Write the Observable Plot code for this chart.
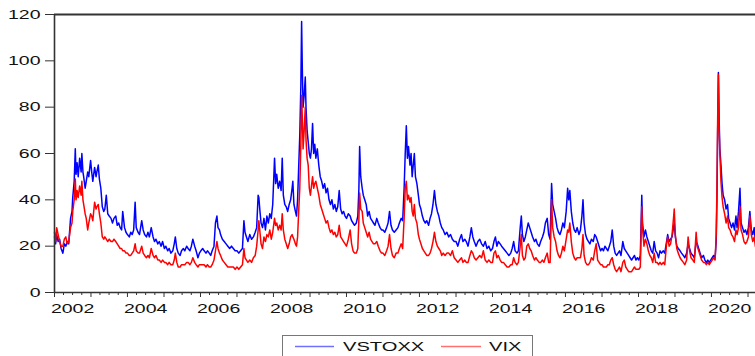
<!DOCTYPE html>
<html>
<head>
<meta charset="utf-8">
<script src="https://cdn.jsdelivr.net/npm/d3@7"></script>
<script src="https://cdn.jsdelivr.net/npm/@observablehq/plot@0.6"></script>
<style>
  html, body { margin: 0; padding: 0; background: #fff; overflow: hidden; }
  #wrap { position: relative; width: 755px; height: 356px; }
  #legend { position: absolute; left: 282px; top: 335px; width: 249px; height: 30px; border: 1px solid #777; background: #fff; }
  text { font-family: "Liberation Sans", Arial, sans-serif; }
</style>
</head>
<body>
<div id="wrap">
  <div id="chart"></div>
  <div id="legend"></div>
</div>
<script>
// ---- data (decimal year) ----
const t = [
  2002.00,2002.03,2002.06,2002.10,2002.14,2002.18,2002.23,2002.27,2002.31,2002.35,2002.39,2002.44,2002.48,2002.50,2002.54,2002.57,2002.59,2002.62,2002.65,2002.69,2002.73,2002.75,2002.78,2002.80,2002.84,2002.87,2002.91,2002.94,2002.99,
  2003.02,2003.05,2003.10,2003.14,2003.16,2003.20,2003.23,2003.27,2003.31,2003.35,2003.38,2003.42,2003.46,2003.50,2003.55,2003.59,2003.63,2003.68,2003.72,2003.76,2003.80,2003.84,2003.87,2003.92,2003.96,
  2004.00,2004.05,2004.09,2004.13,2004.17,2004.21,2004.24,2004.29,2004.33,2004.39,2004.43,2004.47,2004.52,2004.56,2004.60,2004.65,2004.70,2004.74,2004.78,2004.83,2004.87,2004.92,2004.96,
  2005.01,2005.05,2005.10,2005.14,2005.19,2005.24,2005.28,2005.31,2005.35,2005.39,2005.44,2005.48,2005.53,2005.57,2005.62,2005.66,2005.71,2005.75,2005.79,2005.84,2005.88,2005.93,2005.97,
  2006.01,2006.06,2006.10,2006.15,2006.19,2006.24,2006.28,2006.32,2006.37,2006.41,2006.45,2006.48,2006.52,2006.55,2006.60,2006.65,2006.70,2006.75,2006.80,2006.85,2006.90,2006.95,
  2007.00,2007.05,2007.10,2007.15,2007.19,2007.22,2007.26,2007.30,2007.35,2007.40,2007.45,2007.50,2007.54,2007.58,2007.60,2007.63,2007.66,2007.70,2007.74,2007.78,2007.82,2007.86,2007.90,2007.94,2007.98,
  2008.03,2008.06,2008.09,2008.13,2008.17,2008.21,2008.24,2008.27,2008.31,2008.35,2008.39,2008.43,2008.47,2008.51,2008.53,2008.56,2008.60,2008.63,2008.66,2008.69,2008.72,2008.75,2008.77,2008.79,2008.81,2008.84,2008.87,2008.89,2008.92,2008.95,2008.98,
  2009.01,2009.04,2009.07,2009.10,2009.13,2009.16,2009.20,2009.24,2009.28,2009.32,2009.36,2009.40,2009.44,2009.48,2009.52,2009.56,2009.60,2009.64,2009.68,2009.72,2009.76,2009.80,2009.84,2009.88,2009.92,2009.96,
  2010.00,2010.05,2010.10,2010.14,2010.18,2010.22,2010.27,2010.31,2010.34,2010.36,2010.39,2010.43,2010.46,2010.50,2010.54,2010.58,2010.62,2010.66,2010.70,2010.74,2010.78,2010.83,2010.87,2010.92,2010.96,
  2011.00,2011.05,2011.10,2011.14,2011.18,2011.22,2011.26,2011.31,2011.36,2011.41,2011.45,2011.50,2011.54,2011.58,2011.61,2011.64,2011.67,2011.70,2011.74,2011.77,2011.80,2011.83,2011.86,2011.89,2011.93,2011.97,
  2012.00,2012.04,2012.08,2012.12,2012.16,2012.20,2012.25,2012.29,2012.33,2012.37,2012.41,2012.45,2012.49,2012.53,2012.57,2012.61,2012.65,2012.70,2012.75,2012.80,2012.85,2012.90,2012.95,
  2013.00,2013.05,2013.10,2013.15,2013.19,2013.24,2013.28,2013.33,2013.38,2013.42,2013.46,2013.50,2013.55,2013.60,2013.65,2013.70,2013.75,2013.80,2013.85,2013.90,2013.95,
  2014.00,2014.04,2014.08,2014.12,2014.16,2014.21,2014.25,2014.30,2014.35,2014.40,2014.45,2014.50,2014.54,2014.58,2014.62,2014.67,2014.71,2014.76,2014.79,2014.82,2014.86,2014.90,2014.94,2014.98,
  2015.02,2015.06,2015.10,2015.15,2015.19,2015.23,2015.28,2015.32,2015.37,2015.41,2015.45,2015.50,2015.54,2015.58,2015.62,2015.65,2015.69,2015.73,2015.77,2015.81,2015.85,2015.89,2015.93,2015.97,
  2016.02,2016.06,2016.09,2016.12,2016.16,2016.20,2016.24,2016.28,2016.32,2016.37,2016.41,2016.45,2016.48,2016.51,2016.55,2016.59,2016.63,2016.67,2016.71,2016.76,2016.80,2016.84,2016.88,2016.92,2016.96,
  2017.00,2017.04,2017.08,2017.12,2017.16,2017.20,2017.24,2017.28,2017.32,2017.36,2017.40,2017.44,2017.48,2017.52,2017.57,2017.61,2017.65,2017.69,2017.73,2017.77,2017.81,2017.85,2017.89,2017.93,2017.97,
  2018.01,2018.05,2018.09,2018.11,2018.15,2018.19,2018.23,2018.27,2018.31,2018.35,2018.39,2018.43,2018.47,2018.51,2018.55,2018.59,2018.63,2018.68,2018.72,2018.77,2018.80,2018.84,2018.88,2018.92,2018.96,2018.98,
  2019.01,2019.05,2019.09,2019.14,2019.18,2019.23,2019.27,2019.32,2019.36,2019.40,2019.44,2019.49,2019.53,2019.58,2019.61,2019.65,2019.69,2019.73,2019.78,2019.82,2019.86,2019.90,2019.94,2019.98,
  2020.02,2020.06,2020.10,2020.13,2020.15,2020.17,2020.19,2020.21,2020.23,2020.26,2020.29,2020.32,2020.36,2020.40,2020.44,2020.47,2020.51,2020.55,2020.59,2020.63,2020.67,2020.70,2020.74,2020.78,2020.81,2020.85,2020.89,2020.93,2020.97,
  2021.01,2021.05,2021.09,2021.13,2021.17,2021.20
];
const vstoxx = [
  24,21,25,22,23,19,17,21,20,22,21,32,35,41,48,62,51,56,50,58,52,60,52,50,45,48,52,50,57,
  52,48,54,50,52,55,49,45,37,35,36,42,34,33,32,30,32,33,29,30,28,27,35,28,26,
  25,24,26,25,27,39,28,26,25,31,27,25,24,26,24,28,24,22,23,21,22,20,22,
  19,20,18,19,17,18,21,24,19,17,16,18,19,18,20,19,18,20,23,20,18,15,17,
  18,19,18,17,18,17,16,18,20,30,33,28,27,25,23,22,21,20,19,20,19,18,
  18,17,18,19,31,26,24,22,25,23,24,26,28,42,41,35,30,28,32,27,33,30,34,32,38,
  58,47,51,45,48,44,58,42,38,37,35,38,40,45,48,38,35,33,40,54,68,90,117,96,80,85,93,80,70,65,60,
  58,62,73,60,64,58,62,55,50,48,45,47,43,45,40,38,40,36,38,35,37,44,36,34,35,33,
  32,34,33,31,30,29,30,33,45,63,50,45,42,40,38,33,35,32,31,30,29,32,30,28,27,
  27,26,28,30,35,29,27,26,27,28,30,32,31,45,60,72,58,63,55,60,50,55,60,50,47,42,
  38,36,33,31,30,31,29,32,34,38,44,38,35,33,30,28,27,25,26,24,25,23,22,
  22,20,23,25,22,23,22,20,24,28,24,22,20,22,23,21,20,22,19,20,18,
  19,22,24,20,22,21,20,19,18,17,16,17,19,22,18,17,18,28,33,25,22,24,27,30,
  28,26,24,22,23,21,20,22,24,26,30,32,25,23,47,38,35,32,28,26,25,27,30,28,
  35,45,40,44,35,30,27,26,28,25,27,33,40,30,25,23,22,21,23,22,25,24,22,20,18,
  19,18,20,19,18,20,22,27,20,17,16,17,18,16,22,19,18,17,16,15,14,15,16,14,15,
  14,16,42,30,24,27,24,22,20,18,17,22,18,17,15,18,17,18,17,22,25,22,23,24,28,30,
  24,20,19,18,17,16,15,17,21,19,17,16,15,22,21,19,17,15,16,14,13,14,13,14,
  15,16,15,22,40,70,95,75,62,55,47,42,40,36,38,32,30,28,30,27,33,28,35,45,30,28,26,27,25,
  28,35,27,25,28,22
];
const vix = [
  26,22,28,25,22,20,20,23,24,21,22,28,30,35,40,49,40,44,41,46,42,48,40,38,34,32,27,30,34,
  33,31,39,36,37,38,34,30,24,23,24,23,22,23,22,22,23,22,21,20,19,19,18,18,17,
  17,16,16,17,18,21,18,17,17,20,17,16,15,16,15,19,16,15,16,14,14,13,14,
  13,13,12,13,12,12,14,17,13,11,11,12,12,12,13,13,12,13,15,13,12,11,12,
  12,12,12,11,12,11,11,12,14,18,22,19,17,16,14,13,12,11,11,11,11,10,
  11,10,11,12,19,15,14,13,14,13,15,16,20,27,31,26,21,19,24,22,25,24,27,23,26,
  32,29,30,27,29,27,34,27,23,21,19,21,24,25,24,23,21,20,24,35,45,65,85,75,62,70,80,66,58,55,45,
  42,46,50,45,47,48,45,42,38,36,34,32,30,31,28,26,27,25,26,24,25,29,24,23,22,21,
  20,23,27,21,18,17,17,19,32,43,36,35,30,28,26,24,26,23,22,21,21,22,20,18,17,
  17,16,18,20,25,19,16,15,17,17,19,21,19,32,45,48,40,42,39,41,35,33,38,32,30,25,
  23,21,19,18,17,16,16,17,19,22,26,22,20,19,18,16,17,16,17,17,16,18,15,
  14,13,14,15,13,14,13,13,16,18,17,15,14,15,16,15,18,14,13,14,13,
  13,17,18,15,16,14,13,13,12,11,11,12,12,15,13,12,13,20,25,16,14,15,20,21,
  19,18,16,14,15,14,13,13,14,13,15,17,13,13,40,28,24,22,18,16,15,17,20,18,
  23,27,26,30,22,17,15,14,15,15,15,19,25,16,13,12,12,13,15,14,18,21,14,13,12,
  12,11,11,11,12,12,14,15,12,10,9,10,11,9,13,14,11,10,9,9,9,10,11,10,10,
  10,11,37,28,20,23,21,18,16,15,13,17,13,13,12,13,12,13,12,21,24,20,21,25,32,36,
  25,19,17,15,14,13,12,14,24,18,15,14,13,26,20,18,16,14,13,13,12,13,12,13,
  14,15,14,25,45,75,94,70,60,48,41,37,34,30,33,28,27,25,24,22,27,25,28,37,27,25,22,21,22,
  24,33,25,22,24,20
];
const seriesNames = ["VSTOXX", "VIX"];
const seriesColors = ["#0000ff", "#ff0000"];
const yTicks = [0, 20, 40, 60, 80, 100, 120];
const labelYears = [2002, 2004, 2006, 2008, 2010, 2012, 2014, 2016, 2018, 2020];
const firstYear = 2002, lastYear = 2021;
const xEndDecimal = 2021.205;

// ---- build ----
const toDate = v => {
  const y = Math.floor(v);
  const s = Date.UTC(y, 0, 1), e = Date.UTC(y + 1, 0, 1);
  return new Date(s + (v - y) * (e - s));
};
const n = Math.min(t.length, vstoxx.length, vix.length);
const rows = [];
for (let i = 0; i < n; i++) rows.push({date: toDate(t[i]), vstoxx: vstoxx[i], vix: vix[i]});

const xStart = new Date(Date.UTC(firstYear, 0, 1));
const xEnd = toDate(xEndDecimal);
const yearStarts = d3.range(firstYear, lastYear + 1).map(y => new Date(Date.UTC(y, 0, 1)));
const quarterTicks = d3.utcMonth.every(3).range(xStart, xEnd).filter(d => d.getUTCMonth() !== 0);
const labelDates = labelYears.map(y => new Date(Date.UTC(y, 6, 1)));

const font = "'Liberation Sans', Arial, sans-serif";
const chart = Plot.plot({
  width: 755,
  height: 330,
  marginTop: 14,
  marginBottom: 38,
  marginLeft: 54,
  marginRight: 0,
  style: {fontFamily: font, fontSize: "13px", color: "#111", background: "#fff", overflow: "visible"},
  x: {type: "utc", domain: [xStart, xEnd], label: null},
  y: {domain: [0, 120], label: null},
  marks: [
    Plot.lineY(rows, {x: "date", y: "vstoxx", stroke: seriesColors[0], strokeWidth: 1.5}),
    Plot.lineY(rows, {x: "date", y: "vix", stroke: seriesColors[1], strokeWidth: 1.5}),
    Plot.ruleY([0], {stroke: "#333", strokeWidth: 1.6}),
    Plot.ruleY([120], {stroke: "#333", strokeWidth: 2}),
    Plot.ruleX([xStart], {stroke: "#333", strokeWidth: 1.6}),
    Plot.axisY({ticks: yTicks, tickSize: 9, tickPadding: 5, stroke: "#333", fontSize: 13, label: null}),
    Plot.axisX({ticks: yearStarts, tickSize: 5, tickFormat: () => "", stroke: "#333", label: null}),
    Plot.axisX({ticks: quarterTicks, tickSize: 3, tickFormat: () => "", stroke: "#333", label: null}),
    Plot.axisX({ticks: labelDates, tickSize: 0, tickPadding: 11, fontSize: 13, tickFormat: d => String(d.getUTCFullYear()), label: null})
  ]
});

// stretch tick labels horizontally like the original
chart.querySelectorAll("text").forEach(el => {
  const x = parseFloat(el.getAttribute("x")) || 0;
  const y = parseFloat(el.getAttribute("y")) || 0;
  const tr = el.getAttribute("transform") || "";
  el.setAttribute("transform", `${tr} translate(${x},${y}) scale(1.5,1) translate(${-x},${-y})`);
});
document.getElementById("chart").appendChild(chart);

// legend
const ns = "http://www.w3.org/2000/svg";
const lg = document.createElementNS(ns, "svg");
lg.setAttribute("width", 249); lg.setAttribute("height", 30);
const items = [
  {x1: 12, x2: 51, tx: 60, color: "#7070ff", name: seriesNames[0]},
  {x1: 158, x2: 198, tx: 206, color: "#ff7070", name: seriesNames[1]}
];
items.forEach(it => {
  const ln = document.createElementNS(ns, "line");
  ln.setAttribute("x1", it.x1); ln.setAttribute("x2", it.x2);
  ln.setAttribute("y1", 10.5); ln.setAttribute("y2", 10.5);
  ln.setAttribute("stroke", it.color); ln.setAttribute("stroke-width", 1.6);
  lg.appendChild(ln);
  const tx = document.createElementNS(ns, "text");
  tx.setAttribute("transform", `translate(${it.tx},14.5) scale(1.55,1)`);
  tx.setAttribute("font-size", 13);
  tx.setAttribute("font-family", font);
  tx.setAttribute("fill", "#111");
  tx.textContent = it.name;
  lg.appendChild(tx);
});
document.getElementById("legend").appendChild(lg);
</script>
</body>
</html>
